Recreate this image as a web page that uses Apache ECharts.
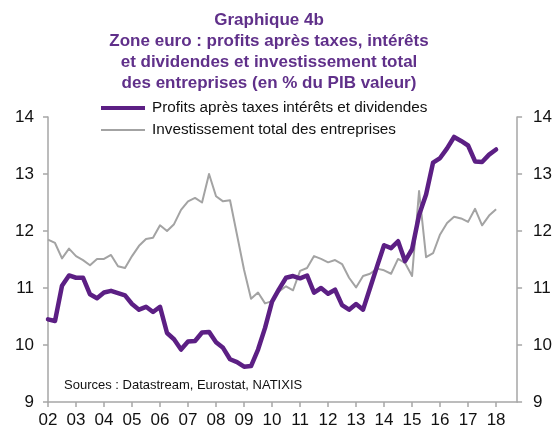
<!DOCTYPE html>
<html>
<head>
<meta charset="utf-8">
<script src="https://cdn.jsdelivr.net/npm/echarts@6/dist/echarts.min.js"></script>
<style>
  html, body { margin: 0; padding: 0; background: #fff; }
  #chart { width: 555px; height: 430px; }
</style>
</head>
<body>
<div id="chart"></div>
<script>
// quarterly data, 2002 T1 -> 2018 T1
const startYear = 2002;
const profits = [
  10.45, 10.42, 11.04, 11.22, 11.18, 11.18, 10.89, 10.82, 10.92, 10.95,
  10.91, 10.87, 10.72, 10.62, 10.67, 10.58, 10.67, 10.21, 10.10, 9.92,
  10.06, 10.07, 10.22, 10.23, 10.05, 9.95, 9.75, 9.70, 9.62, 9.63,
  9.92, 10.30, 10.76, 10.98, 11.18, 11.21, 11.17, 11.22, 10.92, 11.00,
  10.90, 10.97, 10.70, 10.62, 10.72, 10.62, 11.00, 11.38, 11.75, 11.70,
  11.82, 11.47, 11.68, 12.28, 12.64, 13.20, 13.28, 13.45, 13.65, 13.58,
  13.50, 13.22, 13.21, 13.34, 13.43
];
const investissement = [
  11.85, 11.79, 11.52, 11.69, 11.56, 11.49, 11.40, 11.51, 11.51, 11.58,
  11.38, 11.35, 11.56, 11.74, 11.86, 11.88, 12.10, 12.00, 12.12, 12.37,
  12.52, 12.58, 12.50, 13.00, 12.61, 12.52, 12.54, 11.93, 11.32, 10.81,
  10.92, 10.73, 10.77, 10.94, 11.03, 10.96, 11.30, 11.35, 11.56, 11.51,
  11.45, 11.49, 11.42, 11.18, 11.01, 11.21, 11.25, 11.34, 11.31, 11.25,
  11.51, 11.44, 11.21, 12.70, 11.54, 11.61, 11.94, 12.14, 12.25, 12.22,
  12.16, 12.39, 12.10, 12.27, 12.38
];
const quarters = profits.map((v, i) => startYear + i / 4);
const seriesNames = [
  "Profits après taxes intérêts et dividendes",
  "Investissement total des entreprises"
];
const titleText = "Graphique 4b\nZone euro : profits après taxes, intérêts\net dividendes et investissement total\ndes entreprises (en % du PIB valeur)";
const sourceText = "Sources : Datastream, Eurostat, NATIXIS";

const FONT = "'Liberation Sans', Arial, sans-serif";
const PURPLE = "#5c1f84";
const GREY = "#a3a3a3";
const AXIS = "#a6a6a6";

const chart = echarts.init(document.getElementById("chart"));

const yAxisBase = {
  type: "value",
  min: 9,
  max: 14,
  interval: 1,
  splitLine: { show: false },
  axisLine: { show: true, lineStyle: { color: AXIS, width: 1.5 } },
  axisTick: { show: true, length: 5, lineStyle: { color: AXIS, width: 1.5 } },
  axisLabel: { color: "#111", fontSize: 17, fontFamily: FONT, margin: 14 },
};

chart.setOption({
  animation: false,
  backgroundColor: "#fff",
  title: {
    text: titleText,
    left: 269,
    top: 10,
    padding: 0,
    textAlign: "center",
    textStyle: {
      color: "#60308a",
      fontSize: 17,
      fontWeight: "bold",
      fontFamily: FONT,
      lineHeight: 21,
    },
  },
  legend: [
    {
      data: [seriesNames[0]],
      left: 101,
      top: 99,
      padding: 0,
      icon: "rect",
      itemWidth: 44,
      itemHeight: 4,
      textStyle: { fontSize: 15.3, fontFamily: FONT, color: "#111", lineHeight: 18, padding: [0, 0, 0, 2] },
    },
    {
      data: [seriesNames[1]],
      left: 101,
      top: 121,
      padding: 0,
      icon: "rect",
      itemWidth: 44,
      itemHeight: 2,
      textStyle: { fontSize: 15.3, fontFamily: FONT, color: "#111", lineHeight: 18, padding: [0, 0, 0, 2] },
    },
  ],
  graphic: [
    {
      type: "text",
      left: 64,
      top: 379,
      style: { text: sourceText, fontSize: 13, fontFamily: FONT, fill: "#111" },
    },
  ],
  grid: { left: 48, right: 33, top: 117, bottom: 28 },
  xAxis: {
    type: "value",
    min: 2002,
    max: 2018.75,
    interval: 1,
    splitLine: { show: false },
    axisLine: { lineStyle: { color: AXIS, width: 1.5 } },
    axisTick: { length: 5, lineStyle: { color: AXIS, width: 1.5 } },
    axisLabel: {
      color: "#111",
      fontSize: 17,
      fontFamily: FONT,
      margin: 10,
      showMaxLabel: false,
      formatter: (v) => (v % 1 === 0 ? String(v % 100).padStart(2, "0") : ""),
    },
  },
  yAxis: [
    Object.assign({}, yAxisBase, { position: "left" }),
    Object.assign({}, yAxisBase, {
      position: "right",
      axisLabel: Object.assign({}, yAxisBase.axisLabel, { margin: 16 }),
    }),
  ],
  series: [
    {
      name: seriesNames[1],
      type: "line",
      data: quarters.map((x, i) => [x, investissement[i]]),
      showSymbol: false,
      lineStyle: { color: GREY, width: 2, join: "round" },
      itemStyle: { color: GREY },
      z: 2,
    },
    {
      name: seriesNames[0],
      type: "line",
      data: quarters.map((x, i) => [x, profits[i]]),
      showSymbol: false,
      lineStyle: { color: PURPLE, width: 4.5, join: "round", cap: "round" },
      itemStyle: { color: PURPLE },
      z: 3,
    },
  ],
});
</script>
</body>
</html>
